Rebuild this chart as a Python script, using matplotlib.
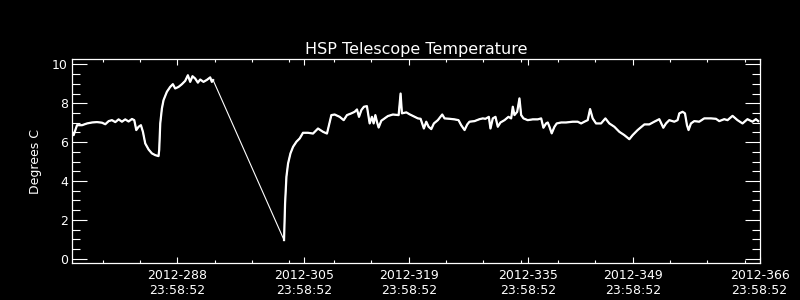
import matplotlib.pyplot as plt
import numpy as np
from matplotlib.ticker import FixedLocator, MultipleLocator

# day of year 2012 (fractional) and telescope temperature, degrees C
# part before the data gap
days_a = [273.90, 274.12, 274.57, 275.24, 275.91, 276.58, 277.24, 277.91, 278.36, 278.81,
          279.25, 279.70, 280.14, 280.59, 281.03, 281.48, 281.93, 282.24, 282.51, 282.82,
          283.13, 283.40, 283.71, 284.16, 284.60, 285.05, 285.49, 285.58, 285.72, 285.94,
          286.16, 286.61, 287.05, 287.41, 287.72, 288.17, 288.62, 289.06, 289.42, 289.73,
          290.04, 290.40, 290.76, 291.07, 291.51, 291.96, 292.41, 292.63, 292.80]
temp_a = [6.53, 6.36, 6.87, 6.87, 6.96, 7.01, 7.03, 7.00, 6.92, 7.08,
          7.13, 7.03, 7.17, 7.05, 7.17, 7.06, 7.19, 7.13, 6.62, 6.79,
          6.87, 6.53, 5.93, 5.62, 5.42, 5.33, 5.28, 5.60, 6.96, 7.73,
          8.16, 8.59, 8.84, 8.98, 8.76, 8.84, 8.98, 9.15, 9.44, 9.10,
          9.39, 9.27, 9.06, 9.22, 9.10, 9.20, 9.33, 9.10, 9.19]

# part after the data gap
days_b = [302.30, 302.44, 302.62, 302.84, 303.16, 303.51, 303.96, 304.40, 304.84, 305.51,
          306.18, 306.85, 307.52, 308.05, 308.32, 308.64, 309.08, 309.75, 310.29, 310.73,
          311.32, 311.76, 312.07, 312.34, 312.66, 313.00, 313.40, 313.63, 313.77, 314.07,
          314.30, 314.53, 314.74, 314.97, 315.33, 315.77, 316.21, 316.88, 317.65, 317.91,
          318.09, 318.68, 319.12, 319.79, 320.23, 320.59, 321.03, 321.35, 321.66, 322.02,
          322.37, 322.90, 323.49, 323.80, 324.47, 325.14, 325.67, 326.03, 326.48, 326.84,
          327.14, 327.81, 328.48, 328.92, 329.28, 329.73, 329.95, 330.26, 330.62, 330.93,
          331.29, 331.83, 332.36, 332.72, 332.94, 333.16, 333.53, 333.83, 334.06, 334.37,
          334.94, 335.61, 336.28, 336.74, 337.04, 337.40, 337.62, 337.85, 338.15, 338.52,
          338.82, 339.41, 340.08, 340.96, 341.63, 342.09, 342.53, 342.97, 343.29, 343.64,
          344.09, 344.76, 345.34, 345.87, 346.54, 347.21, 347.88, 348.55, 348.99, 349.66,
          350.33, 350.56, 351.22, 351.89, 352.56, 353.10, 353.46, 353.90, 354.57, 355.01,
          355.24, 355.68, 356.00, 356.27, 356.48, 356.80, 357.24, 357.91, 358.58, 359.48,
          360.15, 360.59, 361.26, 361.70, 362.37, 363.04, 363.71, 364.37, 365.04, 365.50,
          365.81]
temp_b = [0.96, 2.85, 4.22, 4.90, 5.42, 5.76, 6.02, 6.19, 6.48, 6.48,
          6.44, 6.70, 6.53, 6.44, 6.87, 7.39, 7.42, 7.30, 7.13, 7.39,
          7.48, 7.56, 7.68, 7.30, 7.65, 7.82, 7.85, 7.30, 6.96, 7.30,
          6.96, 7.39, 7.05, 6.75, 7.10, 7.22, 7.34, 7.42, 7.39, 8.50,
          7.48, 7.53, 7.43, 7.30, 7.22, 7.20, 6.70, 7.05, 6.79, 6.67,
          6.96, 7.13, 7.42, 7.22, 7.20, 7.17, 7.13, 6.87, 6.62, 6.91,
          7.05, 7.08, 7.18, 7.22, 7.20, 7.30, 6.70, 7.22, 7.30, 6.79,
          7.01, 7.13, 7.30, 7.22, 7.82, 7.39, 7.56, 8.25, 7.39, 7.22,
          7.13, 7.17, 7.17, 7.22, 6.74, 6.96, 7.01, 6.79, 6.45, 6.79,
          6.96, 7.01, 7.01, 7.05, 7.05, 6.96, 7.05, 7.13, 7.70, 7.22,
          6.96, 6.96, 7.22, 6.96, 6.79, 6.53, 6.36, 6.15, 6.36, 6.62,
          6.84, 6.91, 6.91, 7.05, 7.18, 6.74, 6.96, 7.13, 7.05, 7.13,
          7.48, 7.56, 7.48, 6.87, 6.62, 6.96, 7.08, 7.05, 7.22, 7.22,
          7.20, 7.08, 7.18, 7.13, 7.35, 7.13, 6.96, 7.18, 7.05, 7.18,
          7.08]

tick_days = [288, 305, 319, 335, 349, 366]
tick_labels = ["2012-%d\n23:58:52" % d for d in tick_days]
minor_days = [278, 283, 293, 298, 303, 309, 314, 324, 329, 334, 339, 344, 354, 359, 364]

fig = plt.figure(figsize=(8, 3), dpi=100, facecolor="black")
ax = fig.add_axes([0.09, 0.1233, 0.86, 0.679])
ax.set_facecolor("black")

# thin line bridging the gap, thicker where the samples are dense
days = np.r_[days_a, days_b]
temp = np.r_[temp_a, temp_b]
ax.plot(days, temp, color="white", lw=0.8)
ax.plot(np.r_[days_a, np.nan, days_b], np.r_[temp_a, np.nan, temp_b],
        color="white", lw=1.6)

ax.set_xlim(273.9, 366.05)
ax.set_ylim(-0.22, 10.26)

ax.xaxis.set_major_locator(FixedLocator(tick_days))
ax.set_xticklabels(tick_labels)
ax.xaxis.set_minor_locator(FixedLocator(minor_days))
ax.yaxis.set_major_locator(MultipleLocator(2))
ax.yaxis.set_minor_locator(MultipleLocator(0.5))

for s in ax.spines.values():
    s.set_color("white")
    s.set_linewidth(0.9)

ax.tick_params(which="both", direction="in", top=True, right=True,
               colors="white", width=0.8, labelsize=9)
ax.tick_params(axis="x", which="major", length=4.2, pad=4)
ax.tick_params(axis="x", which="minor", length=2.2)
ax.tick_params(axis="y", which="major", length=10.5, pad=3)
ax.tick_params(axis="y", which="minor", length=5.8)

ax.set_title("HSP Telescope Temperature", color="white", fontsize=11.5, pad=4)
ax.set_ylabel("Degrees C", color="white", fontsize=9)
ax.yaxis.set_label_coords(-0.044, 0.5)

fig.savefig("out.png", dpi=100, facecolor="black")
